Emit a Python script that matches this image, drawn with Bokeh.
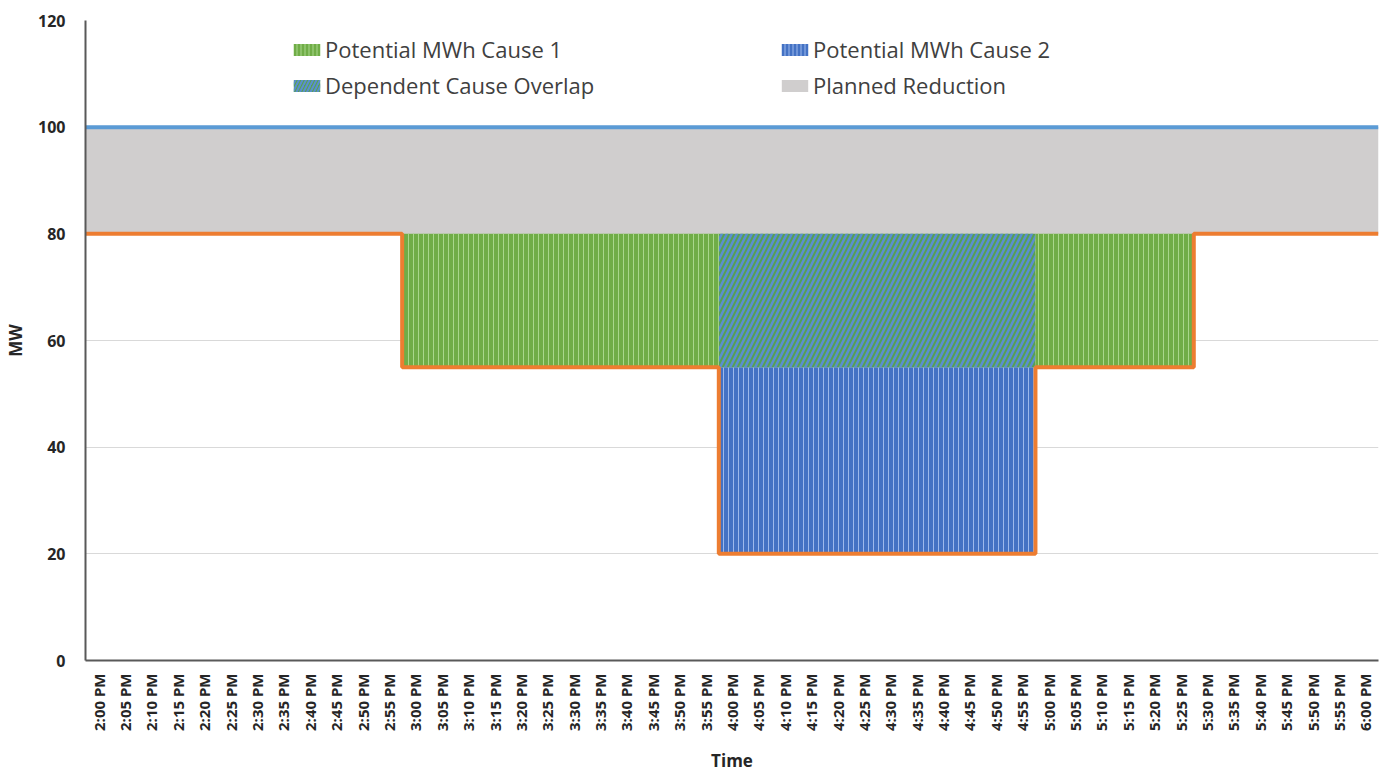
import math
from bokeh.plotting import figure
from bokeh.models import (ColumnDataSource, Range1d, FixedTicker, Legend, LegendItem)
from bokeh.embed import file_html
from bokeh.resources import INLINE

# ---- data ----
times = ["2:00 PM", "2:05 PM", "2:10 PM", "2:15 PM", "2:20 PM", "2:25 PM", "2:30 PM",
         "2:35 PM", "2:40 PM", "2:45 PM", "2:50 PM", "2:55 PM", "3:00 PM", "3:05 PM",
         "3:10 PM", "3:15 PM", "3:20 PM", "3:25 PM", "3:30 PM", "3:35 PM", "3:40 PM",
         "3:45 PM", "3:50 PM", "3:55 PM", "4:00 PM", "4:05 PM", "4:10 PM", "4:15 PM",
         "4:20 PM", "4:25 PM", "4:30 PM", "4:35 PM", "4:40 PM", "4:45 PM", "4:50 PM",
         "4:55 PM", "5:00 PM", "5:05 PM", "5:10 PM", "5:15 PM", "5:20 PM", "5:25 PM",
         "5:30 PM", "5:35 PM", "5:40 PM", "5:45 PM", "5:50 PM", "5:55 PM", "6:00 PM"]

capacity_mw = [100] * 49
planned_mw = [80] * 49
actual_mw = [80, 80, 80, 80, 80, 80, 80, 80, 80, 80, 80, 80,
             55, 55, 55, 55, 55, 55, 55, 55, 55, 55, 55, 55,
             20, 20, 20, 20, 20, 20, 20, 20, 20, 20, 20, 20,
             55, 55, 55, 55, 55, 55,
             80, 80, 80, 80, 80, 80, 80]
cause1_mw = [0] * 12 + [25] * 12 + [0] * 12 + [25] * 6 + [0] * 7
overlap_mw = [0] * 24 + [25] * 12 + [0] * 13
cause2_mw = [0] * 24 + [35] * 12 + [0] * 13

n = len(times)
edges = list(range(n + 1))

def ext(a):
    return list(a) + [a[-1]]

c2_bot = actual_mw
c2_top = [a + b for a, b in zip(c2_bot, cause2_mw)]
ov_top = [a + b for a, b in zip(c2_top, overlap_mw)]
c1_top = [a + b for a, b in zip(ov_top, cause1_mw)]

FONT = "Open Sans"

p = figure(width=1381, height=774, output_backend="svg", toolbar_location=None,
           x_range=Range1d(0, n), y_range=Range1d(0, 120),
           min_border_left=85, min_border_right=3, min_border_top=20, min_border_bottom=113)
p.outline_line_color = None
p.background_fill_color = "white"

GREEN = "#70AD47"
GREEN_H = "#A9D78C"
BLUE = "#4472C4"
BLUE_H = "#9DB9EC"
OV = "#57A052"
OV_H = "#5A8ED0"
GRAY = "#D0CECE"

p.varea_step(x=edges, y1=ext(planned_mw), y2=ext(capacity_mw), step_mode="after",
             fill_color=GRAY)
p.varea_step(x=edges, y1=ext(c2_bot), y2=ext(c2_top), step_mode="after",
             fill_color=BLUE, hatch_pattern="|", hatch_color=BLUE_H,
             hatch_scale=5, hatch_weight=1)
p.varea_step(x=edges, y1=ext(c2_top), y2=ext(ov_top), step_mode="after",
             fill_color=OV, hatch_pattern="/", hatch_color=OV_H,
             hatch_scale=10, hatch_weight=2.5)
p.varea_step(x=edges, y1=ext(ov_top), y2=ext(c1_top), step_mode="after",
             fill_color=GREEN, hatch_pattern="|", hatch_color=GREEN_H,
             hatch_scale=5, hatch_weight=1)

p.step(x=edges, y=ext(capacity_mw), mode="after", line_color="#5B9BD5", line_width=4)
p.step(x=edges, y=ext(actual_mw), mode="after", line_color="#ED7D31", line_width=4)

# legend proxies (placed outside the visible range)
def proxy(**kw):
    src = ColumnDataSource(dict(left=[-10], right=[-9], bottom=[-10], top=[-9]))
    return p.quad(source=src, left="left", right="right", bottom="bottom", top="top",
                  line_color=None, **kw)

g1 = proxy(fill_color=GREEN, hatch_pattern="|", hatch_color=GREEN_H, hatch_scale=4, hatch_weight=1)
g2 = proxy(fill_color=BLUE, hatch_pattern="|", hatch_color=BLUE_H, hatch_scale=4, hatch_weight=1)
g3 = proxy(fill_color=OV, hatch_pattern="/", hatch_color=OV_H, hatch_scale=7, hatch_weight=2)
g4 = proxy(fill_color=GRAY)

def make_legend(items, loc):
    lg = Legend(items=items, location=loc, orientation="vertical",
                border_line_color=None, background_fill_alpha=0,
                label_text_font=FONT, label_text_font_size="22px",
                label_text_color="#404040", glyph_width=33, glyph_height=15,
                label_height=26, label_standoff=2, spacing=6, padding=0, margin=0)
    p.add_layout(lg, "center")
    return lg

make_legend([LegendItem(label="Potential MWh Cause 1", renderers=[g1]),
             LegendItem(label="Dependent Cause Overlap", renderers=[g3])], (205, 560))
make_legend([LegendItem(label="Potential MWh Cause 2", renderers=[g2]),
             LegendItem(label="Planned Reduction", renderers=[g4])], (693, 560))

# axes
p.xgrid.grid_line_color = None
p.ygrid.grid_line_color = "#D9D9D9"
p.ygrid.grid_line_width = 1
p.yaxis.ticker = FixedTicker(ticks=[0, 20, 40, 60, 80, 100, 120])
p.xaxis.ticker = FixedTicker(ticks=[i + 0.5 for i in range(n)])
p.xaxis.major_label_overrides = {i + 0.5: t for i, t in enumerate(times)}
p.xaxis.major_label_orientation = math.pi / 2

for ax in (p.xaxis, p.yaxis):
    ax.axis_line_color = "#595959"
    ax.axis_line_width = 2
    ax.major_tick_line_color = None
    ax.minor_tick_line_color = None
    ax.major_label_text_font = FONT
    ax.major_label_text_font_style = "bold"
    ax.major_label_text_color = "#262626"
    ax.axis_label_text_font = FONT
    ax.axis_label_text_font_style = "bold"
    ax.axis_label_text_font_size = "17px"
    ax.axis_label_text_color = "#262626"

p.yaxis.major_label_text_font_size = "16px"
p.yaxis.major_label_standoff = 14
p.xaxis.major_label_text_font_size = "15px"
p.xaxis.major_label_standoff = 7
p.xaxis.axis_label = "Time"
p.yaxis.axis_label = "MW"
p.xaxis.axis_label_standoff = 15
p.yaxis.axis_label_standoff = 8

open("out.html", "w").write(file_html(p, INLINE))
